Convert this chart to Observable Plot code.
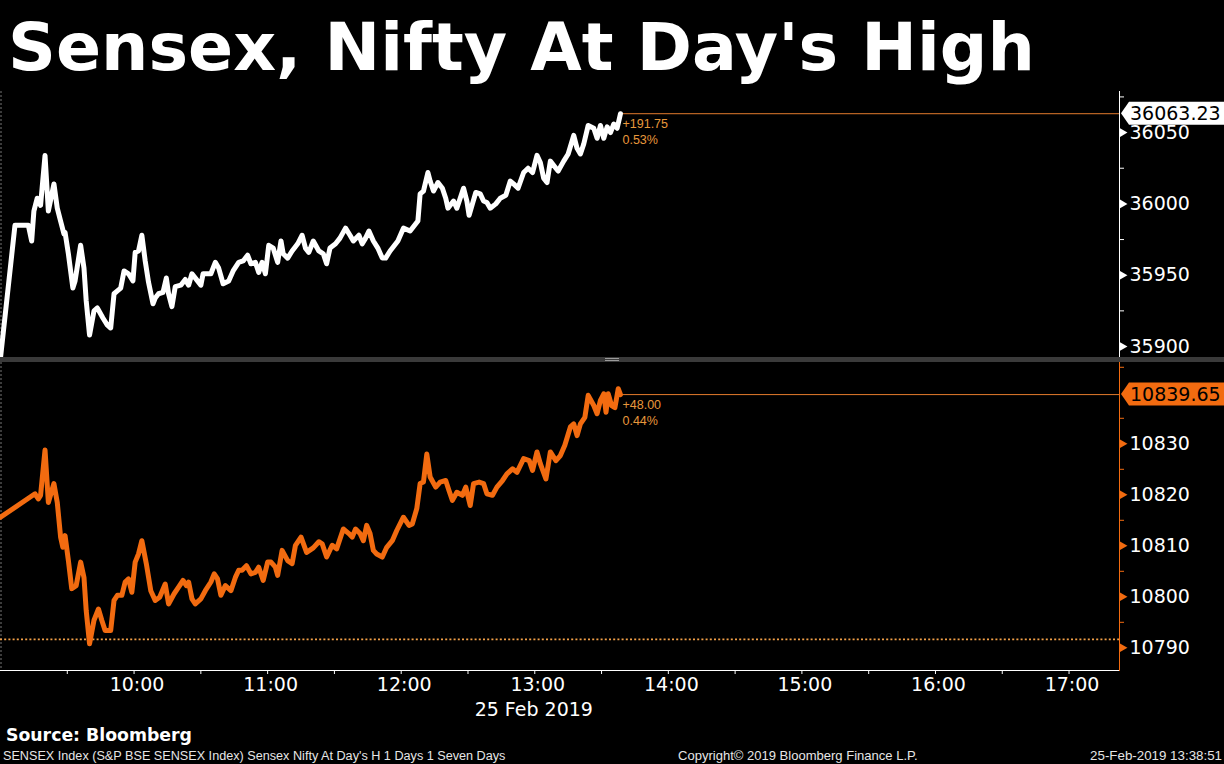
<!DOCTYPE html>
<html><head><meta charset="utf-8">
<script src="https://cdn.jsdelivr.net/npm/d3@7"></script>
<script src="https://cdn.jsdelivr.net/npm/@observablehq/plot@0.6"></script>
<style>
html,body{margin:0;padding:0;background:#000;}
body{width:1224px;height:764px;overflow:hidden;position:relative;font-family:"DejaVu Sans",sans-serif;color:#fff}
.abs{position:absolute;white-space:nowrap}
</style></head><body>
<div id="title" class="abs" style="left:8px;top:14px;font-weight:bold;font-size:66px;line-height:66px;font-family:'DejaVu Sans'"></div>
<div id="topChart" class="abs" style="left:0;top:91px"></div>
<div class="abs" style="left:0;top:357px;width:1224px;height:5px;background:#3a3a3a"></div>
<div class="abs" style="left:605px;top:358px;width:14px;height:1px;border-top:1px solid #9a9a9a;border-bottom:1px solid #9a9a9a"></div>
<div id="bottomChart" class="abs" style="left:0;top:362px"></div>
<div id="source" class="abs" style="left:6px;top:725px;font-weight:bold;font-size:17px;line-height:20px"></div>
<div id="foot1" class="abs" style="left:3px;top:749px;font-family:'Liberation Sans';font-size:12px;line-height:14px;color:#e6e6e6"></div>
<div id="foot2" class="abs" style="left:678px;top:749px;font-family:'Liberation Sans';font-size:12px;line-height:14px;color:#e6e6e6"></div>
<div id="foot3" class="abs" style="right:2px;top:749px;font-family:'Liberation Sans';font-size:12px;line-height:14px;color:#e6e6e6"></div>
<script>
// ---------------- data ----------------
const titleText = "Sensex, Nifty At Day's High";
const sourceText = "Source: Bloomberg";
const footerTexts = ["SENSEX Index (S&P BSE SENSEX Index) Sensex Nifty At Day's H 1 Days 1 Seven Days",
  "Copyright\u00a9 2019 Bloomberg Finance L.P.", "25-Feb-2019 13:38:51"];
const dateLabel = ["25 Feb 2019"];
const sessionDay = "2019-02-25";
const xDomainTimes = ["09:00:00", "17:22:40"];
const hourTicks = ["10:00:00","11:00:00","12:00:00","13:00:00","14:00:00","15:00:00","16:00:00","17:00:00"];
const halfHourTicks = ["09:30:00","10:00:00","10:30:00","11:00:00","11:30:00","12:00:00","12:30:00","13:00:00","13:30:00","14:00:00","14:30:00","15:00:00","15:30:00","16:00:00","16:30:00","17:00:00"];

const sensexTicks = [35900, 35950, 36000, 36050];
const sensexMinorTicks = [35925, 35975, 36025, 36075];
const sensexDomain = [35892.3, 36078.8];
const sensexChange = ["+191.75", "0.53%"];
const sensexTimes = ["09:00:00","09:06:30","09:12:30","09:14:00","09:15:00","09:16:30","09:18:00","09:20:00","09:21:30","09:24:00","09:25:30","09:27:00","09:28:30","09:29:00","09:30:30","09:32:30","09:33:30","09:36:00","09:37:30","09:38:30","09:40:00","09:42:00","09:43:30","09:46:00","09:48:00","09:49:30","09:51:00","09:52:30","09:54:00","09:55:30","09:57:30","09:59:30","10:00:30","10:02:00","10:03:30","10:05:00","10:06:30","10:08:30","10:09:30","10:11:00","10:13:00","10:14:30","10:15:30","10:17:00","10:18:30","10:21:00","10:23:00","10:24:30","10:26:00","10:28:30","10:30:00","10:31:00","10:34:30","10:36:30","10:38:00","10:40:00","10:42:30","10:44:30","10:47:00","10:49:00","10:51:00","10:52:30","10:54:30","10:56:00","10:57:30","10:59:00","11:00:30","11:02:30","11:04:30","11:06:00","11:07:00","11:09:00","11:11:00","11:13:30","11:15:30","11:17:00","11:18:30","11:20:30","11:23:00","11:25:00","11:26:30","11:28:00","11:30:30","11:32:30","11:35:00","11:37:00","11:38:30","11:41:00","11:42:30","11:44:00","11:45:30","11:47:30","11:49:30","11:51:30","11:53:00","11:55:00","11:58:30","12:01:00","12:04:00","12:07:30","12:08:30","12:10:00","12:12:00","12:13:00","12:14:30","12:16:30","12:18:30","12:20:00","12:21:00","12:23:30","12:25:00","12:26:30","12:28:00","12:29:30","12:30:30","12:32:00","12:33:30","12:35:30","12:37:00","12:38:30","12:40:00","12:42:30","12:44:30","12:47:00","12:49:00","12:50:30","12:52:30","12:55:00","12:57:00","12:59:00","13:01:00","13:02:30","13:04:00","13:05:30","13:07:00","13:09:30","13:10:30","13:13:00","13:15:00","13:17:30","13:19:00","13:20:30","13:22:00","13:24:00","13:26:30","13:28:00","13:29:30","13:31:00","13:32:30","13:34:00","13:35:30","13:37:00","13:38:30"];
const sensexValues = [35892,35985,35985,35974,35995,36004,35999,36034,35995,36014,35997,35988,35979,35980,35965,35941,35946,35971,35955,35932,35908,35925,35927,35920,35915,35913,35937,35939,35941,35953,35951,35946,35966,35967,35978,35960,35945,35930,35934,35937,35938,35948,35937,35928,35942,35943,35947,35943,35951,35946,35943,35951,35951,35959,35955,35944,35946,35953,35959,35960,35964,35958,35959,35952,35959,35951,35971,35969,35959,35974,35965,35962,35967,35972,35978,35969,35966,35974,35967,35965,35958,35969,35972,35976,35983,35978,35974,35978,35972,35976,35981,35974,35969,35962,35962,35967,35974,35983,35981,35988,36007,36009,36022,36016,36009,36015,36011,36004,35997,36002,35997,36004,36011,36002,35992,36000,36008,36007,36002,36001,35997,36000,36004,36006,36016,36014,36011,36022,36025,36022,36034,36029,36018,36015,36030,36025,36023,36030,36035,36048,36039,36035,36042,36055,36053,36046,36055,36046,36054,36050,36056,36053,36063.23];

const niftyTicks = [10790, 10800, 10810, 10820, 10830];
const niftyMinorTicks = [10795, 10805, 10815, 10825, 10835, 10845];
const niftyDomain = [10785.55, 10845.94];
const niftyChange = ["+48.00", "0.44%"];
const niftyPrevClose = [10791.65];
const niftyTimes = ["09:00:00","09:15:30","09:17:00","09:18:00","09:20:00","09:21:30","09:24:00","09:25:30","09:27:00","09:28:00","09:29:00","09:30:30","09:32:00","09:34:00","09:36:00","09:37:30","09:38:30","09:40:00","09:42:00","09:44:00","09:45:30","09:47:00","09:49:30","09:51:00","09:52:30","09:54:30","09:56:00","09:57:30","09:59:00","10:00:30","10:02:00","10:03:30","10:05:30","10:07:30","10:09:30","10:11:30","10:14:00","10:15:30","10:18:00","10:20:00","10:22:00","10:23:30","10:24:30","10:26:00","10:27:30","10:30:00","10:32:00","10:34:30","10:36:00","10:37:30","10:39:00","10:41:00","10:43:30","10:45:30","10:47:00","10:48:30","10:50:30","10:52:30","10:54:30","10:56:00","10:58:00","11:00:00","11:01:30","11:03:30","11:04:30","11:06:30","11:09:00","11:11:00","11:12:30","11:15:00","11:17:30","11:20:30","11:23:00","11:24:30","11:26:30","11:29:00","11:31:00","11:34:00","11:36:30","11:38:00","11:39:30","11:41:30","11:43:00","11:44:30","11:46:00","11:47:30","11:49:00","11:51:30","11:53:30","11:56:00","11:58:00","12:01:00","12:03:30","12:05:00","12:07:00","12:08:30","12:10:00","12:11:30","12:13:00","12:15:30","12:17:30","12:20:00","12:21:30","12:23:00","12:25:00","12:27:30","12:29:00","12:31:00","12:32:30","12:35:00","12:37:00","12:38:30","12:41:00","12:43:00","12:45:30","12:47:30","12:50:00","12:52:00","12:55:00","12:57:30","12:59:00","13:01:00","13:02:30","13:05:00","13:07:00","13:09:30","13:11:30","13:13:30","13:16:00","13:17:30","13:19:00","13:20:30","13:22:30","13:24:00","13:26:30","13:28:00","13:29:30","13:31:00","13:32:00","13:33:00","13:34:30","13:36:00","13:37:30","13:38:30"];
const niftyValues = [10815.6,10820.2,10819.2,10819.9,10828.8,10818.5,10822.2,10818.5,10811.7,10809.7,10812.0,10807.1,10801.6,10802.2,10806.8,10803.8,10797.3,10790.8,10795.4,10797.6,10795.4,10793.4,10793.4,10799.3,10800.3,10800.3,10802.9,10803.5,10800.9,10806.8,10808.4,10811.0,10806.5,10801.2,10799.3,10799.9,10802.5,10798.6,10800.6,10801.9,10803.2,10802.2,10802.9,10799.6,10798.6,10799.6,10801.2,10802.9,10804.5,10803.5,10800.3,10802.2,10801.2,10803.8,10805.2,10805.2,10806.1,10804.5,10804.8,10805.8,10803.2,10806.8,10806.8,10805.8,10804.2,10809.1,10807.1,10806.5,10810.1,10811.7,10808.7,10809.6,10810.8,10810.4,10807.8,10810.1,10809.4,10813.3,10812.4,10811.7,10813.3,10812.4,10811.0,10814.0,10812.4,10809.1,10808.4,10807.8,10809.7,10811.0,10813.0,10815.6,10814.0,10814.3,10817.3,10822.2,10822.5,10828.0,10823.5,10821.5,10822.5,10822.8,10820.8,10818.9,10820.5,10819.9,10821.5,10817.9,10822.2,10822.5,10822.2,10820.2,10819.9,10821.5,10822.8,10824.1,10825.1,10824.4,10827.1,10826.7,10824.8,10828.4,10826.1,10823.1,10828.4,10826.7,10827.7,10829.7,10833.3,10833.9,10831.6,10833.9,10835.2,10839.5,10837.5,10835.9,10838.5,10839.8,10836.2,10839.8,10837.5,10837.1,10840.8,10839.65];

// ---------------- styling ----------------
const W = 1224, MR = 105;
const ORANGE = "#f26b10", REF = "#e27a2c", NOTE = "#e8983c", DOTS = "#f2a048";
const parse = d3.timeParse("%Y-%m-%d %H:%M:%S");
const T = s => parse(sessionDay + " " + s);
const xDomain = xDomainTimes.map(T);
const zip = (ts, vs) => d3.range(Math.min(ts.length, vs.length)).map(i => ({t: T(ts[i]), v: vs[i]}));
const sensex = zip(sensexTimes, sensexValues);
const nifty = zip(niftyTimes, niftyValues);

function priceTag(value, bg) {
  return (index, scales, values, dims) => {
    const y = scales.y(value);
    const x0 = dims.width - dims.marginRight + 2;
    const g = d3.create("svg:g");
    g.append("path")
      .attr("d", `M${x0},${y} L${x0 + 8},${y - 11.5} H${dims.width} V${y + 11.5} H${x0 + 8} Z`)
      .attr("fill", bg);
    g.append("text").attr("x", x0 + 9).attr("y", y).attr("dy", "0.36em")
      .attr("text-anchor", "start")
      .attr("font-size", 19).attr("font-family", "DejaVu Sans").attr("fill", "#000")
      .text(d3.format(".2f")(value));
    return g.node();
  };
}

function panel({data, lineColor, domain, ticks, minor, axisColor, change, height, marginBottom, extra}) {
  const last = data[data.length - 1];
  return Plot.plot({
    width: W, height, marginLeft: 0, marginRight: MR, marginTop: 0, marginBottom,
    style: {background: "transparent", color: "white", fontFamily: "DejaVu Sans", overflow: "visible"},
    x: {type: "time", domain: xDomain, axis: null},
    y: {domain, axis: null},
    marks: [
      Plot.ruleX([xDomain[0]], {stroke: "#777", strokeDasharray: "2,2", dx: 0.5}),
      ...(extra || []),
      Plot.frame({anchor: "right", stroke: axisColor}),
      Plot.axisY({anchor: "right", ticks: minor, tickSize: 4, tickFormat: () => "", stroke: axisColor, label: null}),
      Plot.axisY({anchor: "right", ticks, tickSize: 0, tickPadding: 10, tickFormat: d3.format("d"), fill: "white", fontSize: 19, label: null}),
      Plot.dot(ticks, {x: () => xDomain[1], y: d => d, symbol: "triangle", r: 3.2, rotate: 90, fill: axisColor, stroke: null, dx: 3}),
      Plot.ruleY([last.v], {x1: last.t, x2: xDomain[1], stroke: REF, strokeWidth: 1}),
      Plot.lineY(data, {x: "t", y: "v", stroke: lineColor, strokeWidth: 5, strokeLinejoin: "round", strokeLinecap: "round", clip: true}),
      Plot.text([last], {x: "t", y: "v", text: () => change.join("\n"), textAnchor: "start", lineAnchor: "top",
        dx: 2, dy: 3, fill: NOTE, fontSize: 12.5, fontFamily: "Liberation Sans", lineHeight: 1.28}),
      priceTag(last.v, lineColor === "white" ? "#ffffff" : ORANGE)
    ]
  });
}

const topPlot = panel({
  data: sensex, lineColor: "white", domain: sensexDomain, ticks: sensexTicks, minor: sensexMinorTicks,
  axisColor: "white", change: sensexChange, height: 266, marginBottom: 0
});
document.getElementById("topChart").append(topPlot);

const bottomPlot = panel({
  data: nifty, lineColor: ORANGE, domain: niftyDomain, ticks: niftyTicks, minor: niftyMinorTicks,
  axisColor: ORANGE, change: niftyChange, height: 364, marginBottom: 56,
  extra: [
    Plot.ruleY(niftyPrevClose, {stroke: DOTS, strokeDasharray: "2,2.2", strokeWidth: 1.6}),
    Plot.frame({anchor: "bottom", stroke: "white"}),
    Plot.axisX({ticks: halfHourTicks.map(T), tickSize: 4, tickFormat: () => "", stroke: "white", label: null}),
    Plot.axisX({ticks: hourTicks.map(T), tickSize: 0, tickPadding: 7, tickFormat: d3.timeFormat("%H:%M"),
      fill: "white", fontSize: 19, dx: 3, label: null}),
    Plot.text(dateLabel, {x: () => T(hourTicks[3]), frameAnchor: "bottom", dy: 45, text: d => d,
      fill: "white", fontSize: 19, dx: -1})
  ]
});
document.getElementById("bottomChart").append(bottomPlot);

// ---------------- texts ----------------
function setFit(id, text, width) {
  const el = document.getElementById(id);
  el.textContent = text;
  const fs = parseFloat(getComputedStyle(el).fontSize);
  const w = el.getBoundingClientRect().width;
  if (w > 0 && width) el.style.fontSize = (fs * width / w) + "px";
}
setFit("title", titleText, 1027);
setFit("source", sourceText, 186);
setFit("foot1", footerTexts[0], 503);
setFit("foot2", footerTexts[1], 240);
setFit("foot3", footerTexts[2], 132);
</script>
</body></html>
